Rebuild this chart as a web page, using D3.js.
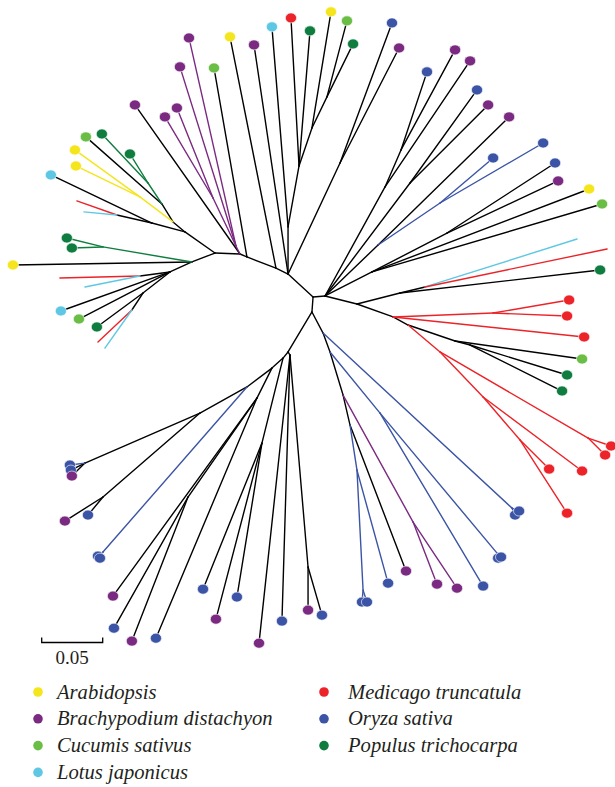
<!DOCTYPE html>
<html><head><meta charset="utf-8">
<script src="https://cdn.jsdelivr.net/npm/d3@7"></script>
<style>body{margin:0;background:#fff}svg{display:block}</style>
</head><body>
<svg id="chart" width="615" height="787"></svg>
<script>
// ---- species ----
const speciesKeys   = ["ara","bra","cuc","lot","med","ory","pop"];
const speciesNames  = ["Arabidopsis","Brachypodium distachyon","Cucumis sativus","Lotus japonicus","Medicago truncatula","Oryza sativa","Populus trichocarpa"];
const speciesColors = ["#f4e51c","#7b2a82","#6abd45","#5ec8e4","#ec2328","#3b54a5","#0e7d3f"];

// ---- unrooted tree layout: [id, parent, x, y (in 0.001 substitutions), tip species, branch colour species] ----
const topClade = [
  ["F",null,-9.8,-21.3,"",""],
  ["N1","F",-19.7,-26.2,"",""],
  ["G","F",10.7,-2.5,"",""],
  ["E","F",-9.8,-59.9,"",""],
  ["t01","N1",-57.4,-215.7,"ara",""],
  ["t02","F",-37.7,-209.1,"bra",""],
  ["t03","E",-23.0,-223.9,"lot",""],
  ["E2","E",-0.8,-109.9,"",""],
  ["t04","E2",-7.4,-231.2,"med",""],
  ["t05","E2",8.2,-220.6,"pop",""],
  ["E3","E2",9.8,-141.0,"",""],
  ["t06","E3",25.4,-236.2,"ara",""],
  ["E4","E3",22.1,-166.5,"",""],
  ["t07","E4",38.5,-228.8,"cuc",""],
  ["t08","E4",43.5,-209.9,"pop",""],
  ["Nbp","F",32.8,-112.3,"",""],
  ["t09","Nbp",75.4,-227.1,"ory",""],
  ["t10","Nbp",81.2,-206.6,"bra",""]
];
const upperLeftClade = [
  ["B2","N1",-43.5,-35.3,"",""],
  ["B","B2",-49.2,-37.7,"",""],
  ["t11","B2",-70.5,-190.2,"cuc",""],
  ["t12","B",-135.3,-159.9,"bra",""],
  ["Pn","B",-52.5,-44.3,"","bra"],
  ["t13","Pn",-91.0,-214.8,"bra","bra"],
  ["t14","Pn",-98.4,-191.1,"bra","bra"],
  ["Pn2","Pn",-71.3,-83.6,"","bra"],
  ["t15","Pn2",-100.9,-157.4,"bra","bra"],
  ["t16","Pn2",-110.7,-150.1,"bra","bra"],
  ["A","B",-69.7,-38.5,"",""],
  ["C","A",-94.3,-55.8,"",""],
  ["C2","C",-104.1,-64.0,"",""],
  ["C1","C",-121.4,-63.1,"",""],
  ["t17","C1",-204.2,-102.5,"lot",""],
  ["C1a","C1",-150.1,-69.7,"",""],
  ["e01","C1a",-182.9,-81.2,"","med"],
  ["e02","C1a",-177.1,-72.2,"","lot"],
  ["Y","C2",-131.2,-84.5,"","ara"],
  ["t18","Y",-184.5,-123.0,"ara","ara"],
  ["t19","Y",-183.7,-109.9,"ara","ara"],
  ["C3","C2",-113.2,-78.7,"",""],
  ["t20","C3",-175.5,-133.7,"cuc",""],
  ["dkG","C3",-124.6,-95.9,"","pop"],
  ["t21","dkG",-162.4,-136.1,"pop","pop"],
  ["t22","dkG",-139.4,-119.7,"pop","pop"]
];
const leftClade = [
  ["D","A",-88.6,-31.2,"",""],
  ["Dg","D",-161.5,-43.5,"","pop"],
  ["t23","Dg",-191.1,-50.8,"pop","pop"],
  ["t24","Dg",-187.0,-42.6,"pop","pop"],
  ["t25","D",-235.3,-28.7,"ara",""],
  ["D1","D",-106.6,-23.0,"",""],
  ["D1a","D1",-131.2,-19.7,"",""],
  ["e03","D1a",-196.8,-18.0,"","med"],
  ["e04","D1a",-176.3,-10.7,"","lot"],
  ["t26","D1",-196.0,9.0,"lot",""],
  ["t27","D1",-181.2,15.6,"cuc",""],
  ["D1c","D1",-128.7,-5.7,"",""],
  ["t28","D1c",-166.5,22.1,"pop",""],
  ["D1d","D1c",-137.8,8.2,"",""],
  ["e05","D1d",-165.6,34.4,"","med"],
  ["e06","D1d",-159.9,39.4,"","lot"]
];
const rightUpperClade = [
  ["Gp","G",20.5,-3.3,"",""],
  ["Nq2","Gp",69.7,-92.7,"",""],
  ["Nq1","Nq2",82.8,-123.0,"",""],
  ["t29","Nq1",104.1,-187.0,"ory",""],
  ["t30","Nq1",127.1,-205.0,"bra",""],
  ["t31","Nq2",139.4,-196.0,"bra",""],
  ["Nq3","Gp",90.2,-95.9,"",""],
  ["t32","Nq3",145.1,-172.2,"ory",""],
  ["t33","Nq3",154.2,-159.9,"bra",""],
  ["Nq4","Gp",64.0,-45.1,"",""],
  ["t34","Nq4",171.4,-150.1,"bra",""],
  ["Nbb","Nq4",114.8,-79.5,"","ory"],
  ["t35","Nbb",199.3,-128.7,"ory","ory"],
  ["t36","Nbb",158.3,-116.4,"ory","ory"],
  ["Nr0","Gp",59.0,-23.0,"",""],
  ["Nr1","Nr0",120.5,-54.9,"",""],
  ["t37","Nr1",209.1,-112.3,"ory",""],
  ["t38","Nr1",211.6,-97.6,"bra",""],
  ["t39","Nr0",237.0,-91.0,"ara",""],
  ["t40","Nr0",247.6,-78.7,"cuc",""],
  ["H","Gp",46.7,3.3,"",""],
  ["Ndg","H",82.0,-5.7,"",""],
  ["Ncr","Ndg",102.5,-10.7,"",""],
  ["e07","Ncr",227.1,-50.0,"","lot"],
  ["e08","Ncr",251.7,-41.8,"","med"],
  ["t41","Ndg",246.0,-24.6,"pop",""]
];
const rightLowerClade = [
  ["R1","H",76.3,13.9,"",""],
  ["R1a","R1",158.3,10.7,"","med"],
  ["t42","R1a",220.6,0,"med","med"],
  ["t43","R1a",218.9,13.1,"med","med"],
  ["t44","R1",232.9,30.3,"med","med"],
  ["R2","R1",88.6,20.5,"",""],
  ["R2a","R2",114.8,42.6,"","med"],
  ["R2p","R2a",236.2,113.2,"","med"],
  ["t45","R2p",255.0,119.7,"med","med"],
  ["t46","R2p",250.1,127.1,"med","med"],
  ["R2b","R2a",150.1,79.5,"","med"],
  ["t47","R2b",231.2,140.2,"med","med"],
  ["R2c","R2b",180.4,114.8,"","med"],
  ["t48","R2c",204.2,138.6,"med","med"],
  ["t49","R2c",218.9,174.7,"med","med"],
  ["R3","R2",127.1,33.6,"",""],
  ["t50","R3",231.2,48.4,"cuc",""],
  ["R3a","R3",139.4,36.9,"",""],
  ["t51","R3a",218.9,61.5,"pop",""],
  ["t52","R3a",214.8,74.6,"pop",""]
];
const bottomClade = [
  ["I","G",9.8,9.8,"",""],
  ["K1","I",18.9,27.1,"",""],
  ["BP1","K1",173.8,170.6,"","ory"],
  ["t53","BP1",176.3,176.3,"ory","ory"],
  ["t54","BP1",179.6,173.0,"ory","ory"],
  ["K2","K1",24.6,42.6,"",""],
  ["B2n","K2",65.6,92.7,"","ory"],
  ["BP2","B2n",161.5,207.5,"","ory"],
  ["t55","BP2",162.4,211.6,"ory","ory"],
  ["t56","BP2",164.8,210.7,"ory","ory"],
  ["t57","B2n",150.1,234.5,"ory","ory"],
  ["K3","K2",35.3,77.9,"",""],
  ["P3","K3",92.7,182.0,"","bra"],
  ["t58","P3",112.3,232.9,"bra","bra"],
  ["t59","P3",128.7,236.2,"bra","bra"],
  ["K4","K3",41.0,102.5,"",""],
  ["t60","K4",86.9,222.2,"bra",""],
  ["K5","K4",46.7,139.4,"","ory"],
  ["BP3","K5",51.7,237.8,"","ory"],
  ["t61","BP3",50.8,247.6,"ory","ory"],
  ["t62","BP3",54.9,247.6,"ory","ory"],
  ["t63","K5",72.2,232.1,"ory","ory"]
];
const bottomLeftClade = [
  ["J","I",-9.8,42.6,"",""],
  ["Jr","J",-8.2,45.1,"",""],
  ["t64","Jr",-33.6,281.3,"bra",""],
  ["t65","Jr",-14.8,263.2,"ory",""],
  ["Jr2","Jr",6.6,218.9,"",""],
  ["t66","Jr2",6.6,254.2,"bra",""],
  ["t67","Jr2",18.0,258.3,"ory",""],
  ["Ja","J",-13.9,47.6,"",""],
  ["Jb","Ja",-23.0,55.8,"",""],
  ["Jc","Ja",-31.2,117.3,"",""],
  ["t68","Jc",-68.9,261.6,"bra",""],
  ["t69","Jc",-51.7,243.5,"ory",""],
  ["t70","Jc",-79.5,237.0,"ory",""],
  ["Jd","Jb",-43.5,71.3,"",""],
  ["Je","Jb",-35.3,80.4,"",""],
  ["t71","Je",-153.3,242.7,"bra",""],
  ["Jf","Je",-91.8,161.5,"",""],
  ["t72","Jf",-152.5,269.0,"ory",""],
  ["t73","Jf",-137.8,279.6,"bra",""],
  ["t74","Je",-118.1,277.2,"ory",""],
  ["BPL","Jd",-161.5,206.6,"","ory"],
  ["t75","BPL",-165.6,209.9,"ory","ory"],
  ["t76","BPL",-164.0,211.6,"ory","ory"],
  ["J3","Jd",-82.0,92.7,"",""],
  ["T1n","J3",-176.3,133.7,"",""],
  ["t77","T1n",-188.6,135.3,"ory","ory"],
  ["t78","T1n",-187.8,139.4,"ory",""],
  ["t79","T1n",-187.0,144.3,"bra",""],
  ["T2n","J3",-161.5,161.5,"",""],
  ["t80","T2n",-192.7,181.2,"bra",""],
  ["t81","T2n",-173.8,176.3,"ory",""]
];

// scale bar value (substitutions per site) and tree units (0.001 subst.)
const scaleBarValue = 0.05;
const treeUnit = 0.001;

// ---- drawing ----
const svg = d3.select("#chart");
const nodes = [].concat(topClade, upperLeftClade, leftClade, rightUpperClade, rightLowerClade, bottomClade, bottomLeftClade)
  .map(r => ({id:r[0], parent:r[1], x:r[2], y:r[3], tip:r[4], branch:r[5]}));
const byId = new Map(nodes.map(d => [d.id, d]));

const barUnits = scaleBarValue / treeUnit;   // 50
const x = d3.scaleLinear().domain([0, barUnits]).range([300, 361]);
const y = d3.scaleLinear().domain([0, barUnits]).range([300, 361]);
const color = d3.scaleOrdinal().domain(speciesKeys).range(speciesColors);

const edges = nodes.filter(d => d.parent);
const black = edges.filter(d => !d.branch), colored = edges.filter(d => d.branch);
svg.append("g").selectAll("line").data(black.concat(colored)).join("line")
  .attr("x1", d => x(byId.get(d.parent).x)).attr("y1", d => y(byId.get(d.parent).y))
  .attr("x2", d => x(d.x)).attr("y2", d => y(d.y))
  .attr("stroke", d => d.branch ? color(d.branch) : "#000")
  .attr("stroke-width", 1.4)
  .attr("stroke-linecap", "round");

svg.append("g").selectAll("ellipse").data(nodes.filter(d => d.tip)).join("ellipse")
  .attr("cx", d => x(d.x)).attr("cy", d => y(d.y))
  .attr("rx", 5.6).attr("ry", 5.0)
  .attr("fill", d => color(d.tip))
  .attr("stroke", "#fff").attr("stroke-width", 0.6);

// scale bar
const sb = svg.append("g").attr("transform", "translate(41.7,0)");
const sbLen = x(barUnits) - x(0);
sb.append("path")
  .attr("d", `M0,637.5V642.5H${sbLen}V637.5`)
  .attr("fill", "none").attr("stroke", "#000").attr("stroke-width", 1.3);
sb.append("text").attr("x", sbLen/2).attr("y", 664).attr("text-anchor", "middle")
  .attr("font-family", "'Liberation Serif', serif").attr("font-size", 19).attr("fill", "#231f20")
  .text(d3.format(".2f")(scaleBarValue));

// legend
const legend = svg.append("g");
const items = legend.selectAll("g").data(speciesKeys).join("g")
  .attr("transform", (d, i) => `translate(${i < 4 ? 38 : 324},${692 + (i % 4) * 26.8})`);
items.append("circle").attr("r", 4.8).attr("fill", d => color(d));
items.append("text").attr("x", (d, i) => i < 4 ? 19 : 24).attr("y", 6.5)
  .attr("font-family", "'Liberation Serif', serif").attr("font-style", "italic")
  .attr("font-size", 20.6).attr("fill", "#231f20")
  .text((d, i) => speciesNames[i]);
</script>
</body></html>
